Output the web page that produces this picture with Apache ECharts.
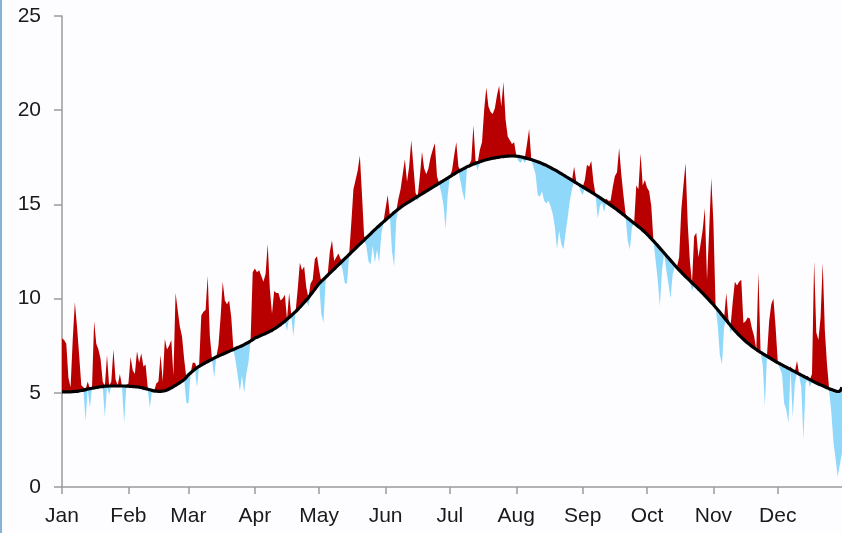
<!DOCTYPE html>
<html>
<head>
<meta charset="utf-8">
<script src="https://cdn.jsdelivr.net/npm/echarts@6/dist/echarts.min.js"></script>
<style>
  html, body { margin: 0; padding: 0; background: #fdfdff; }
  #wrap { position: relative; width: 842px; height: 533px; }
  #edge { position: absolute; left: 0; top: 0; width: 2px; height: 533px; background: #86b4d6; }
  #chart { position: absolute; left: 0; top: 0; width: 842px; height: 533px; }
</style>
</head>
<body>
<div id="wrap"><div id="chart"></div><div id="edge"></div></div>
<script>
// months and their lengths (used for the category axis)
const monthNames = ['Jan', 'Feb', 'Mar', 'Apr', 'May', 'Jun', 'Jul', 'Aug', 'Sep', 'Oct', 'Nov', 'Dec'];
const monthDays = [31, 28, 31, 30, 31, 30, 31, 31, 30, 31, 30, 31];
const yTicks = [0, 5, 10, 15, 20, 25];

// smoothed normal (black line), one value per day
const normal = [
  // Jan
  5.05, 5.05, 5.05, 5.05, 5.05, 5.06, 5.07, 5.08, 5.1, 5.12,
  5.14, 5.17, 5.2, 5.22, 5.24, 5.26, 5.28, 5.3, 5.32, 5.33, 5.35,
  5.35, 5.36, 5.36, 5.36, 5.36, 5.36, 5.36, 5.36, 5.36, 5.35,
  // Feb
  5.35, 5.34, 5.33, 5.32, 5.31, 5.3, 5.28, 5.25, 5.22, 5.19, 5.16, 5.13, 5.1,
  5.09, 5.08, 5.08, 5.09, 5.11, 5.15, 5.2, 5.26, 5.33, 5.4, 5.47, 5.54, 5.62, 5.7, 5.82,
  // Mar
  5.95, 6.05, 6.15, 6.25, 6.33, 6.4, 6.47, 6.53, 6.6, 6.66, 6.72, 6.78, 6.84, 6.9,
  6.95, 7.0, 7.05, 7.1, 7.15, 7.2, 7.25, 7.3, 7.35, 7.4, 7.45, 7.5, 7.56, 7.62, 7.68, 7.75, 7.82,
  // Apr
  7.9, 7.95, 8.0, 8.05, 8.1, 8.15, 8.2, 8.26, 8.32, 8.39, 8.46, 8.54, 8.62, 8.71, 8.8,
  8.9, 9.0, 9.1, 9.2, 9.31, 9.42, 9.54, 9.66, 9.79, 9.92, 10.05, 10.2, 10.35, 10.5, 10.65,
  // May
  10.8, 10.91, 11.02, 11.13, 11.24, 11.35, 11.46, 11.57, 11.68, 11.79, 11.9, 12.01, 12.12, 12.23, 12.34, 12.45,
  12.56, 12.67, 12.78, 12.89, 13.0, 13.11, 13.22, 13.33, 13.44, 13.55, 13.66, 13.77, 13.87, 13.97, 14.07,
  // Jun
  14.17, 14.27, 14.37, 14.47, 14.57, 14.66, 14.75, 14.84, 14.92, 15.0, 15.07, 15.14, 15.21, 15.28, 15.35,
  15.42, 15.49, 15.56, 15.63, 15.7, 15.77, 15.84, 15.91, 15.98, 16.05, 16.12, 16.19, 16.26, 16.33, 16.4,
  // Jul
  16.47, 16.54, 16.61, 16.68, 16.75, 16.81, 16.87, 16.93, 16.99, 17.04, 17.09, 17.14, 17.18, 17.22, 17.26, 17.3,
  17.34, 17.37, 17.4, 17.43, 17.45, 17.47, 17.49, 17.51, 17.53, 17.54, 17.55, 17.56, 17.57, 17.57, 17.57,
  // Aug
  17.56, 17.55, 17.53, 17.5, 17.47, 17.44, 17.41, 17.38, 17.34, 17.3, 17.26, 17.22, 17.17, 17.12, 17.07, 17.01,
  16.95, 16.89, 16.83, 16.77, 16.7, 16.63, 16.56, 16.49, 16.42, 16.35, 16.28, 16.21, 16.14, 16.07, 16.0,
  // Sep
  15.93, 15.86, 15.79, 15.72, 15.65, 15.58, 15.51, 15.44, 15.36, 15.28, 15.2, 15.12, 15.04, 14.96, 14.88,
  14.8, 14.72, 14.63, 14.54, 14.45, 14.36, 14.27, 14.18, 14.09, 14.0, 13.91, 13.82, 13.73, 13.63, 13.53,
  // Oct
  13.42, 13.3, 13.18, 13.06, 12.94, 12.81, 12.68, 12.55, 12.42, 12.29, 12.16, 12.03, 11.9, 11.77, 11.64, 11.52,
  11.4, 11.28, 11.17, 11.06, 10.95, 10.84, 10.73, 10.62, 10.51, 10.4, 10.28, 10.16, 10.04, 9.92, 9.8,
  // Nov
  9.67, 9.54, 9.41, 9.27, 9.13, 8.99, 8.85, 8.71, 8.57, 8.43, 8.3, 8.18, 8.06, 7.95, 7.84,
  7.74, 7.64, 7.55, 7.46, 7.38, 7.3, 7.22, 7.15, 7.08, 7.01, 6.94, 6.87, 6.8, 6.73, 6.66,
  // Dec
  6.6, 6.54, 6.48, 6.42, 6.36, 6.3, 6.24, 6.18, 6.12, 6.06, 6.0, 5.94, 5.88, 5.82, 5.76, 5.7,
  5.64, 5.58, 5.52, 5.47, 5.42, 5.37, 5.32, 5.27, 5.22, 5.18, 5.14, 5.1, 5.07, 5.1, 5.3
];

// observed daily values
const actual = [
  // Jan
  7.9, 7.8, 7.6, 5.8, 5.3, 7.8, 9.8, 8.5, 7.0, 5.4, 5.3, 3.5, 5.6, 4.2, 5.3, 8.8,
  7.6, 7.3, 6.8, 5.6, 3.7, 7.0, 4.9, 5.6, 7.3, 5.7, 5.4, 6.0, 5.3, 3.4, 5.4,
  // Feb
  5.5, 6.9, 6.2, 6.0, 7.2, 6.6, 7.1, 6.4, 6.5, 5.3, 4.2, 5.1, 5.0, 5.5,
  5.6, 7.0, 5.6, 7.85, 7.3, 7.5, 7.8, 5.9, 10.3, 9.4, 8.5, 8.0, 6.8, 4.5,
  // Mar
  4.4, 6.0, 6.6, 6.6, 5.3, 6.5, 9.1, 9.3, 9.4, 11.2, 8.0, 6.8, 5.8, 6.9, 7.5, 9.0,
  10.9, 9.9, 9.7, 9.9, 9.0, 7.3, 6.7, 5.9, 5.1, 5.9, 5.0, 6.0, 6.6, 7.75, 11.4,
  // Apr
  11.6, 11.4, 11.5, 11.2, 10.9, 11.3, 12.9, 10.5, 9.2, 10.4, 10.3, 10.3, 9.9, 10.0, 10.2,
  8.3, 10.3, 9.0, 8.0, 9.3, 10.5, 11.9, 11.5, 11.7, 10.6, 9.6, 10.8, 11.0, 12.1, 12.25,
  // May
  11.5, 9.2, 8.7, 10.9, 11.3, 12.5, 13.1, 12.0, 12.2, 12.4, 12.1, 11.5, 10.8, 10.8, 12.3, 14.0,
  15.8, 16.3, 16.8, 17.6, 15.5, 13.3, 12.8, 12.0, 11.8, 12.8, 11.9, 12.6, 11.9, 13.4, 14.0,
  // Jun
  14.8, 15.5, 14.4, 12.5, 11.7, 14.2, 15.3, 15.8, 16.6, 17.4, 16.2, 17.0, 18.4, 17.0, 15.6,
  15.2, 16.5, 17.8, 16.9, 16.6, 16.9, 17.5, 17.9, 18.25, 16.5, 16.1, 15.6, 15.0, 13.7, 15.5,
  // Jul
  16.5, 16.8, 17.6, 18.3, 17.0, 16.2, 15.6, 15.2, 17.0, 17.1, 17.35, 19.2, 17.3, 16.8, 17.9, 18.3,
  20.0, 21.2, 20.2, 19.9, 19.8, 20.1, 20.8, 21.3, 20.2, 21.5, 19.5, 18.6, 18.4, 18.2, 18.3,
  // Aug
  17.6, 17.3, 17.2, 17.4, 17.2, 18.2, 19.0, 17.4, 17.0, 16.6, 15.5, 15.4, 15.7, 15.2, 15.05, 15.2,
  14.9, 14.5, 13.8, 12.6, 13.6, 12.9, 12.6, 13.5, 14.3, 15.2, 15.8, 17.0, 16.2, 16.1, 15.7,
  // Sep
  15.5, 16.3, 17.1, 17.0, 17.3, 16.2, 15.5, 14.25, 14.9, 15.1, 14.6, 15.3, 15.2, 15.2, 15.9,
  16.5, 16.7, 18.0, 16.6, 15.5, 14.5, 13.1, 12.6, 13.8, 14.0, 16.0, 15.8, 17.7, 16.0, 16.3,
  // Oct
  15.9, 15.7, 14.9, 13.1, 12.05, 11.0, 9.6, 11.5, 12.4, 11.5, 10.8, 10.0, 11.3, 11.7, 11.7, 12.2,
  14.7, 16.0, 17.2, 14.0, 12.0, 10.4, 13.3, 13.5, 12.2, 12.9, 13.65, 14.8, 11.0, 13.6, 16.4,
  // Nov
  14.0, 9.6, 8.6, 7.0, 6.5, 8.5, 10.3, 8.9, 8.2, 9.8, 10.9, 10.7, 10.9, 11.0, 8.7,
  8.8, 9.0, 8.95, 8.4, 8.0, 7.3, 11.4, 7.2, 6.5, 4.3, 7.0, 8.8, 9.7, 10.0, 8.5,
  // Dec
  6.7, 6.3, 6.0, 4.45, 4.1, 3.4, 6.4, 3.7, 5.5, 6.7, 5.9, 5.3, 2.5, 5.5, 5.9, 5.3,
  6.0, 12.0, 8.2, 7.8, 9.0, 11.9, 8.3, 6.5, 5.1, 4.0, 2.4, 1.5, 0.55, 1.2, 1.8
];

// category axis: one entry per day, labels only on the 1st of each month
const days = [];
const monthStart = new Set();
monthNames.forEach((m, i) => {
  monthStart.add(days.length);
  for (let d = 1; d <= monthDays[i]; d++) days.push(m + ' ' + d);
});

// two stacks: warm part sits on the normal, cold part sits on the observed value
const lows = actual.map((v, i) => Math.min(v, normal[i]));
const above = actual.map((v, i) => Math.max(v - normal[i], 0));
const below = actual.map((v, i) => Math.max(normal[i] - v, 0));

const textStyle = { color: '#1a1a1a', fontSize: 21, fontFamily: 'Liberation Sans, Arial, sans-serif' };
const axisColor = '#9a9a9a';
const hidden = { symbol: 'none', silent: true, lineStyle: { width: 0, opacity: 0 } };

const chart = echarts.init(document.getElementById('chart'), null, { renderer: 'canvas' });
chart.setOption({
  backgroundColor: '#fdfdff',
  animation: false,
  grid: { left: 62, right: 0, top: 16, bottom: 46, containLabel: false },
  xAxis: {
    type: 'category',
    data: days,
    boundaryGap: false,
    axisLine: { lineStyle: { color: axisColor, width: 1.5 } },
    axisTick: { length: 7, interval: (i) => monthStart.has(i), lineStyle: { color: axisColor, width: 1.5 } },
    axisLabel: {
      ...textStyle,
      margin: 19,
      interval: (i) => monthStart.has(i),
      formatter: (v) => v.split(' ')[0]
    },
    splitLine: { show: false }
  },
  yAxis: {
    type: 'value',
    min: yTicks[0],
    max: yTicks[yTicks.length - 1],
    interval: 5,
    axisLine: { show: true, lineStyle: { color: axisColor, width: 1.5 } },
    axisTick: { show: true, length: 8, lineStyle: { color: axisColor, width: 1.5 } },
    axisLabel: { ...textStyle, margin: 21 },
    splitLine: { show: false }
  },
  series: [
    { name: 'warmBase', type: 'line', stack: 'warm', data: normal, ...hidden },
    {
      name: 'warmer', type: 'line', stack: 'warm', data: above, ...hidden,
      areaStyle: { color: '#b90000', opacity: 1 }
    },
    { name: 'coldBase', type: 'line', stack: 'cold', data: lows, ...hidden },
    {
      name: 'colder', type: 'line', stack: 'cold', data: below, ...hidden,
      areaStyle: { color: '#8fd8fa', opacity: 1 }
    },
    {
      name: 'normal', type: 'line', data: normal,
      symbol: 'none', smooth: true, silent: true,
      lineStyle: { color: '#000', width: 3.2 }
    }
  ]
});
</script>
</body>
</html>
